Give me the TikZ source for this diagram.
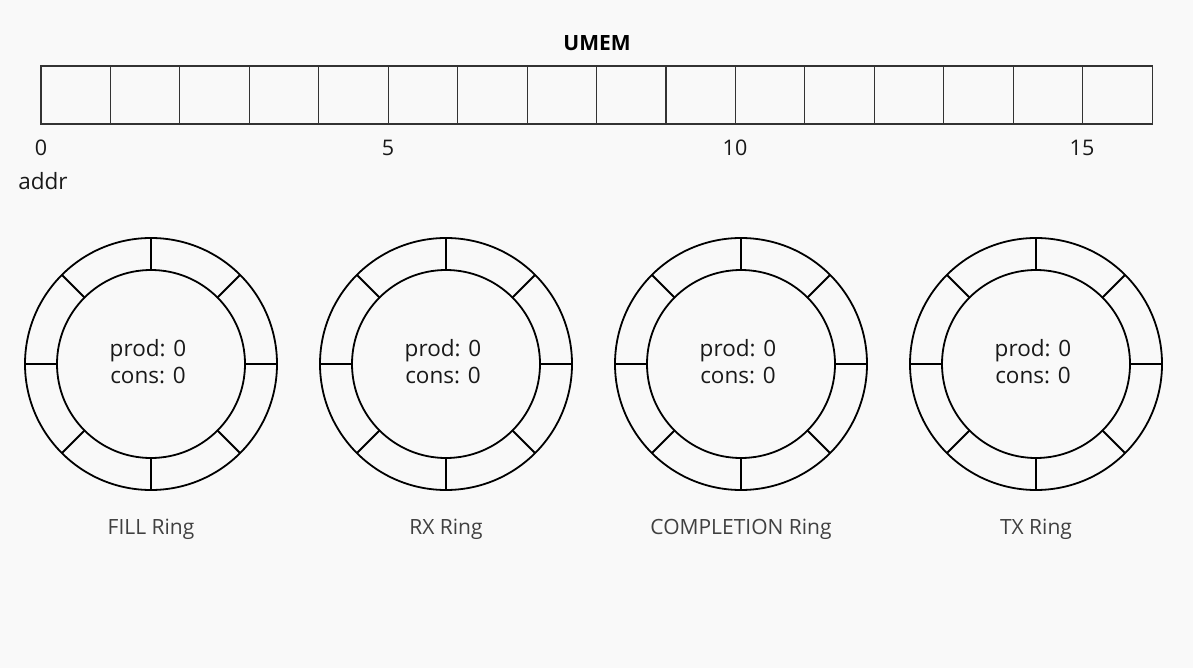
\documentclass[tikz,border=0pt]{standalone}
\usepackage{fontspec}
\setmainfont{Open Sans}
\usetikzlibrary{calc}
\begin{document}
\begin{tikzpicture}[x=1pt,y=-1pt,
  cell/.style={draw=black!80,line width=1.1pt,minimum width=69.44pt,minimum height=58pt,inner sep=0pt,outer sep=0pt,anchor=north west},
  ringline/.style={draw=black,line width=1.8pt},
  num/.style={font=\fontsize{21.5}{25}\selectfont,text=black!90,anchor=center},
  inner/.style={font=\fontsize{22.5}{27}\selectfont,align=center,text=black!90,inner sep=0pt},
  rlabel/.style={font=\fontsize{21}{25}\selectfont,text=black!75}]
\fill[black!2.5] (0,0) rectangle (1193,668);
\useasboundingbox (0,0) rectangle (1193,668);
\node[font=\bfseries\fontsize{21}{25}\selectfont] (umem) at (597,43) {UMEM};
\foreach \i in {0,...,15}{
  \node[cell] (c\i) at ({41+\i*69.44},66) {};
}
\node[num] (n0) at (41,148) {0};
\node[num] (n5) at (388,148) {5};
\node[num] (n10) at (735,148) {10};
\node[num] (n15) at (1082,148) {15};
\node[num,font=\fontsize{22.5}{26}\selectfont] (addr) at (43,181) {addr};
\foreach \cx/\lab/\nm in {151/FILL Ring/fill,446/RX Ring/rx,741/COMPLETION Ring/comp,1036/TX Ring/tx}{
  \coordinate (\nm) at (\cx,364);
  \draw[ringline] (\nm) circle[radius=126];
  \draw[ringline] (\nm) circle[radius=94];
  \foreach \a in {0,45,...,315}{
    \draw[ringline] ($(\nm)+(\a:94)$) -- ($(\nm)+(\a:126)$);
  }
  \node[inner] (\nm txt) at ($(\nm)+(-3,-2)$) {prod: 0\\cons: 0};
  \node[rlabel] (\nm lab) at (\cx,529) {\lab};
}
\end{tikzpicture}
\end{document}
